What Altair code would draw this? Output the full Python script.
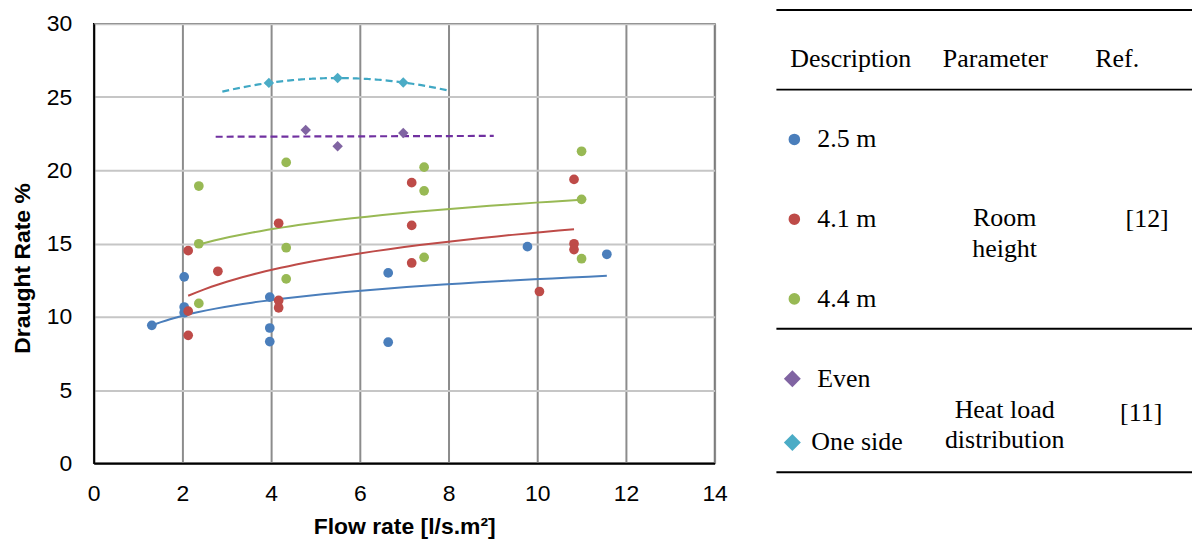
import altair as alt
import pandas as pd

# ---------------- data ----------------
series_names = ["2.5 m", "4.1 m", "4.4 m", "Even", "One side"]
point_colors = ["#4A7EBB", "#BE4B48", "#98B954", "#8064A2", "#4BACC6"]
trend_colors = ["#4A7EBB", "#BE4B48", "#98B954", "#7030A0", "#40A8C4"]

flow_25 = [1.31, 2.04, 2.04, 2.04, 3.97, 3.97, 3.97, 6.64, 6.64, 9.78, 11.57]
draught_25 = [9.42, 12.73, 10.67, 10.28, 11.35, 9.24, 8.31, 13.0, 8.27, 14.79, 14.27]

flow_41 = [2.13, 2.13, 2.13, 2.8, 4.17, 4.17, 4.17, 7.17, 7.17, 7.17, 10.05, 10.83, 10.83, 10.83]
draught_41 = [14.52, 10.39, 8.74, 13.11, 16.39, 11.12, 10.62, 19.16, 16.24, 13.68, 11.73, 19.38, 14.99, 14.59]

flow_44 = [2.37, 2.37, 2.37, 4.34, 4.34, 4.34, 7.45, 7.45, 7.45, 11.0, 11.0, 11.0]
draught_44 = [18.93, 14.99, 10.92, 20.54, 14.72, 12.59, 20.22, 18.6, 14.06, 21.3, 18.02, 13.97]

flow_even = [4.78, 5.5, 6.98]
draught_even = [22.76, 21.65, 22.55]

flow_one = [3.95, 5.5, 6.98]
draught_one = [25.97, 26.3, 26.0]

# trendline spans (Excel forecast backward/forward)
even_trend_extent = [2.75, 9.02]
one_trend_extent = [2.9, 8.0]

x_ticks = [0, 2, 4, 6, 8, 10, 12, 14]
y_ticks = [0, 5, 10, 15, 20, 25, 30]

# table texts
header_labels = ["Description", "Parameter", "Ref."]
desc_labels = ["2.5 m", "4.1 m", "4.4 m", "Even", "One side"]
param_labels = ["Room\nheight", "Heat load\ndistribution"]
ref_labels = ["[12]", "[11]"]

# ---------------- build tables ----------------
rows = []
for name, xs, ys in [
    ("2.5 m", flow_25, draught_25),
    ("4.1 m", flow_41, draught_41),
    ("4.4 m", flow_44, draught_44),
    ("Even", flow_even, draught_even),
    ("One side", flow_one, draught_one),
]:
    for xv, yv in zip(xs, ys):
        rows.append({"flow": xv, "draught": yv, "series": name})
df = pd.DataFrame(rows)

color_scale = alt.Scale(domain=series_names, range=point_colors)

x_enc = alt.X(
    "flow:Q",
    scale=alt.Scale(domain=[0, 14], nice=False, zero=False),
    axis=alt.Axis(values=x_ticks, title="Flow rate [l/s.m²]", gridColor="#8c8c8c",
                  gridWidth=2, labelFlush=False, labelPadding=19, titlePadding=10,
                  titleFontSize=23),
)
y_enc = alt.Y(
    "draught:Q",
    scale=alt.Scale(domain=[0, 30], nice=False),
    axis=alt.Axis(values=y_ticks, title="Draught Rate %", gridColor="#c6c6c6",
                  gridWidth=2, labelPadding=22, titlePadding=12, titleFontSize=23,
                  titleY=245),
)

base = alt.Chart(df)

circles = base.transform_filter(
    alt.FieldOneOfPredicate(field="series", oneOf=series_names[:3])
).mark_circle(size=95, opacity=1).encode(
    x=x_enc, y=y_enc, color=alt.Color("series:N", scale=color_scale, legend=None)
)

diamonds = base.transform_filter(
    alt.FieldOneOfPredicate(field="series", oneOf=series_names[3:])
).mark_point(shape="diamond", filled=True, size=110, opacity=1).encode(
    x=x_enc, y=y_enc, color=alt.Color("series:N", scale=color_scale, legend=None)
)


def log_trend(i):
    return base.transform_filter(alt.datum.series == series_names[i]).transform_regression(
        "flow", "draught", method="log"
    ).mark_line(color=trend_colors[i], strokeWidth=2).encode(x=x_enc, y=y_enc)


even_trend = base.transform_filter(alt.datum.series == "Even").transform_regression(
    "flow", "draught", method="linear", extent=even_trend_extent
).mark_line(color=trend_colors[3], strokeWidth=2.2, strokeDash=[7, 4]).encode(x=x_enc, y=y_enc)

one_trend = base.transform_filter(alt.datum.series == "One side").transform_regression(
    "flow", "draught", method="poly", order=2, extent=one_trend_extent
).mark_line(color=trend_colors[4], strokeWidth=2.2, strokeDash=[7, 4]).encode(x=x_enc, y=y_enc)

left = alt.layer(
    log_trend(0), log_trend(1), log_trend(2), even_trend, one_trend, circles, diamonds
).properties(
    width=623, height=441,
    view=alt.ViewBackground(stroke="black", strokeWidth=1.5),
)

# ---------------- table panel ----------------
table_w, table_h = 417, 466
table_lift = 14          # table top sits above the plot top
row_top = 130            # first description row centre
row_step = 80            # spacing of rows in the room-height group
rule_y = [0, 80, 320, 464]

rules_df = pd.DataFrame({"py": rule_y})

header_df = pd.DataFrame({"label": header_labels, "px": [14, 167, 320], "py": [49, 49, 49]})

desc_y = [row_top + i * row_step for i in range(3)] + [370, 434]
desc_df = pd.DataFrame({
    "label": desc_labels,
    "px": [41, 41, 41, 41, 35],
    "py": desc_y,
    "series": series_names,
    "mx": [18, 18, 18, 16, 16],
})

param_df = pd.DataFrame({"label": param_labels, "px": [229, 229], "py": [209, 401]})
ref_df = pd.DataFrame({"label": ref_labels, "px": [372, 366], "py": [210, 404]})

tx = lambda f: alt.X(f, scale=alt.Scale(domain=[0, table_w], nice=False, zero=False), axis=None)
ty = alt.Y("py:Q", scale=alt.Scale(domain=[0, table_h], range=[-table_lift, table_h - table_lift],
                                   nice=False, zero=False), axis=None)

serif = "Liberation Serif"
fs = 26

rules = alt.Chart(rules_df).mark_rule(color="black", strokeWidth=2).encode(
    x=alt.value(0), x2=alt.value(table_w), y=ty
)
header = alt.Chart(header_df).mark_text(
    font=serif, fontSize=fs, align="left", baseline="middle", color="black"
).encode(x=tx("px:Q"), y=ty, text="label:N")
desc_text = alt.Chart(desc_df).mark_text(
    font=serif, fontSize=fs, align="left", baseline="middle", color="black"
).encode(x=tx("px:Q"), y=ty, text="label:N")
desc_circles = alt.Chart(desc_df).transform_filter(
    alt.FieldOneOfPredicate(field="series", oneOf=series_names[:3])
).mark_circle(size=135, opacity=1).encode(
    x=tx("mx:Q"), y=ty, color=alt.Color("series:N", scale=color_scale, legend=None)
)
desc_diamonds = alt.Chart(desc_df).transform_filter(
    alt.FieldOneOfPredicate(field="series", oneOf=series_names[3:])
).mark_point(shape="diamond", filled=True, size=290, opacity=1).encode(
    x=tx("mx:Q"), y=ty, color=alt.Color("series:N", scale=color_scale, legend=None)
)
param_text = alt.Chart(param_df).mark_text(
    font=serif, fontSize=fs, align="center", baseline="middle", color="black", lineHeight=31
).encode(x=tx("px:Q"), y=ty, text="label:N")
ref_text = alt.Chart(ref_df).mark_text(
    font=serif, fontSize=fs, align="center", baseline="middle", color="black"
).encode(x=tx("px:Q"), y=ty, text="label:N")

right = alt.layer(
    rules, header, desc_circles, desc_diamonds, desc_text, param_text, ref_text
).properties(
    width=table_w, height=441,
    view=alt.ViewBackground(strokeWidth=0, stroke="transparent"),
)

chart = alt.hconcat(left, right, spacing=47).properties(
    padding={"left": 2, "top": 0, "right": 0, "bottom": 0}
).configure_axis(
    labelFont="Liberation Sans", labelFontSize=23, labelColor="black",
    titleFont="Liberation Sans", titleFontWeight="bold", titleColor="black",
    ticks=False, tickSize=0, domainColor="black", domainWidth=2,
).configure_text(
    lineBreak="\n"
)

chart.save("out.html", embed_options={"renderer": "svg", "actions": False})
